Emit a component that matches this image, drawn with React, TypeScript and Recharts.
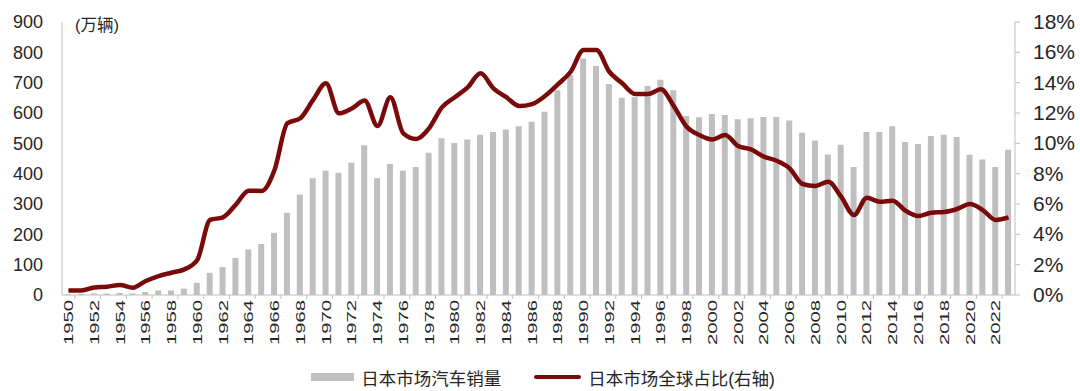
import React from 'react';
import { ComposedChart, Bar, Line, XAxis, YAxis, Legend } from 'recharts';

const years: string[] = [];
for (let y = 1950; y <= 2023; y++) years.push(String(y));

const sales: number[] = [
  3, 4, 5, 5, 7, 5, 10, 15, 15, 21,
  40, 73, 92, 122, 150, 168, 205, 271, 331, 385,
  410, 403, 436, 494, 385, 432, 410, 422, 469, 517,
  501, 513, 528, 537, 546, 556, 571, 604, 675, 725,
  780, 755, 696, 650, 652, 689, 710, 675, 590, 586,
  597, 593, 579, 583, 587, 587, 575, 535, 509, 463,
  495, 422, 537, 537, 556, 504, 498, 524, 528, 521,
  462, 447, 422, 479,
];

const share: number[] = [
  0.3, 0.3, 0.5, 0.55, 0.66, 0.48, 0.92, 1.25, 1.47, 1.69,
  2.31, 4.95, 5.12, 5.96, 6.88, 6.86, 8.24, 11.32, 11.65, 12.86,
  13.96, 11.98, 12.3, 12.82, 11.14, 13.04, 10.66, 10.29, 10.99, 12.37,
  13.04, 13.69, 14.62, 13.63, 13.04, 12.46, 12.59, 13.12, 13.89, 14.72,
  16.15, 16.15, 14.72, 13.96, 13.25, 13.25, 13.56, 12.46, 11.1, 10.55,
  10.26, 10.55, 9.82, 9.6, 9.12, 8.85, 8.35, 7.32, 7.19, 7.47,
  6.48, 5.27, 6.42, 6.15, 6.22, 5.56, 5.21, 5.43, 5.47, 5.67,
  6.0, 5.6, 4.95, 5.12,
];

const leftTicks = [0, 100, 200, 300, 400, 500, 600, 700, 800, 900];
const rightTicks = [0, 2, 4, 6, 8, 10, 12, 14, 16, 18];

const salesName = '日本市场汽车销量';
const shareName = '日本市场全球占比(右轴)';
const unitLabel = '(万辆)';

const data = years.map((year, i) => ({ year, sales: sales[i], share: share[i] }));

const FONT = '"Liberation Sans", Arial, "Noto Sans CJK SC", sans-serif';
const NARROW = '"Liberation Sans Narrow", "Arial Narrow", "Liberation Sans", Arial, sans-serif';
const AXIS_GRAY = '#BFBFBF';
const BAR_GRAY = '#BFBFBF';
const LINE_RED = '#7A0A0A';
const TEXT = '#262626';

const XTick = (props: any) => {
  const { x, y, payload, width } = props;
  const bw = width / data.length;
  const tx = x + 4.6;
  const ty = y + 5;
  return (
    <g>
      <line x1={x + bw / 2} y1={y} x2={x + bw / 2} y2={y + 4} stroke={AXIS_GRAY} strokeWidth={1} />
      <text
        x={tx}
        y={ty}
        transform={`rotate(-90, ${tx}, ${ty})`}
        textAnchor="end"
        fontSize={13}
        textLength={45}
        lengthAdjust="spacingAndGlyphs"
        fontFamily={FONT}
        fill={TEXT}
      >
        {payload.value}
      </text>
    </g>
  );
};

const RightTick = (props: any) => {
  const { x, y, payload } = props;
  return (
    <text x={x} y={y} dy={7} textAnchor="start" fontSize={21} fontFamily={NARROW} fill={TEXT}>
      {`${payload.value}%`}
    </text>
  );
};

const LegendContent = () => (
  <div
    style={{
      display: 'flex',
      justifyContent: 'center',
      alignItems: 'center',
      height: 30,
      fontFamily: FONT,
      fontSize: 17.5,
      color: TEXT,
      paddingLeft: 6,
    }}
  >
    <div style={{ display: 'flex', alignItems: 'center' }}>
      <div style={{ width: 43, height: 8, background: BAR_GRAY, marginRight: 7 }} />
      <span>{salesName}</span>
    </div>
    <div style={{ display: 'flex', alignItems: 'center', marginLeft: 33 }}>
      <div style={{ width: 47, height: 4, background: LINE_RED, marginRight: 7, borderRadius: 2 }} />
      <span>{shareName}</span>
    </div>
  </div>
);

const UnitLabel = (props: any) => {
  const { viewBox } = props;
  return (
    <text
      x={viewBox.x + viewBox.width + 13}
      y={viewBox.y + 9}
      fontSize={16.5}
      fontFamily={FONT}
      fill={TEXT}
    >
      {unitLabel}
    </text>
  );
};

export default function App() {
  return (
    <div style={{ position: 'absolute', left: 0, top: 0, width: 1080, height: 391, background: '#fff' }}>
      <ComposedChart
        width={1080}
        height={391}
        data={data}
        margin={{ top: 22, right: 0, left: 0, bottom: 16 }}
        barCategoryGap={0}
      >
        <XAxis
          dataKey="year"
          interval={1}
          height={50}
          tickLine={false}
          tickSize={0}
          tickMargin={0}
          axisLine={{ stroke: AXIS_GRAY }}
          tick={<XTick />}
        />
        <YAxis
          yAxisId="left"
          orientation="left"
          width={62}
          domain={[0, 900]}
          ticks={leftTicks}
          interval={0}
          tickLine={false}
          tickSize={8}
          tickMargin={11}
          axisLine={{ stroke: AXIS_GRAY }}
          tick={{ fontSize: 18, fontFamily: FONT, fill: TEXT }}
          label={<UnitLabel />}
        />
        <YAxis
          yAxisId="right"
          orientation="right"
          width={65}
          domain={[0, 18]}
          ticks={rightTicks}
          interval={0}
          tickLine={{ stroke: AXIS_GRAY }}
          tickSize={5}
          tickMargin={13}
          axisLine={{ stroke: AXIS_GRAY }}
          tick={<RightTick />}
        />
        <Bar
          yAxisId="left"
          dataKey="sales"
          name={salesName}
          fill={BAR_GRAY}
          barSize={6}
          isAnimationActive={false}
        />
        <Line
          yAxisId="right"
          dataKey="share"
          name={shareName}
          type="monotone"
          stroke={LINE_RED}
          strokeWidth={4.5}
          dot={false}
          activeDot={false}
          isAnimationActive={false}
        />
        <Legend
          verticalAlign="bottom"
          content={<LegendContent />}
          wrapperStyle={{ top: 362, left: 0, width: 1080, height: 30 }}
        />
      </ComposedChart>
    </div>
  );
}
